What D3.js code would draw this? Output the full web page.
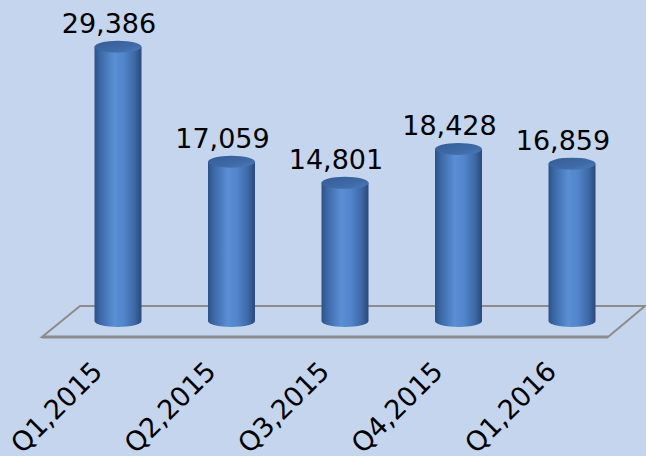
<!DOCTYPE html>
<html>
<head>
<meta charset="utf-8">
<script src="https://d3js.org/d3.v7.min.js"></script>
<style>
  html, body { margin: 0; padding: 0; background: #c6d5ee; }
  svg { display: block; }
</style>
</head>
<body>
<div id="chart"></div>
<script>
// quarterly values
const quarters = ["Q1,2015", "Q2,2015", "Q3,2015", "Q4,2015", "Q1,2016"];
const counts = [29386, 17059, 14801, 18428, 16859];

const W = 646, H = 456;
const baseY = 321;        // centre of the cylinder bottoms
const rx = 23.5, ry = 6;  // cylinder radius and ellipse tilt

const svg = d3.select("#chart").append("svg")
    .attr("width", W).attr("height", H)
    .style("font-family", "'Century Gothic', 'DejaVu Sans', sans-serif");

svg.append("rect").attr("width", W).attr("height", H).attr("fill", "#c6d5ee");

const x = d3.scalePoint().domain(quarters).range([118, 572]);
const y = d3.scaleLinear().domain([0, 30000]).range([baseY, 41]);

// gradients
const defs = svg.append("defs");
const body = defs.append("linearGradient").attr("id", "cylBody")
    .attr("x1", "0%").attr("x2", "100%").attr("y1", "0%").attr("y2", "0%");
[[0, "#2c5287"], [0.12, "#3b68a6"], [0.42, "#5a8fd5"], [0.62, "#5285cb"], [0.85, "#3d69a6"], [1, "#29497a"]]
    .forEach(([o, c]) => body.append("stop").attr("offset", o).attr("stop-color", c));
const cap = defs.append("linearGradient").attr("id", "cylTop")
    .attr("x1", "0%").attr("x2", "100%").attr("y1", "0%").attr("y2", "100%");
[[0, "#345d96"], [0.6, "#3e6aa6"], [1, "#4b7bbd"]]
    .forEach(([o, c]) => cap.append("stop").attr("offset", o).attr("stop-color", c));

// floor (back edge first, cylinders stand over it)
const floor = [[80, 306], [645, 306], [608, 337], [42, 337]];
svg.append("path")
    .attr("d", d3.line()(floor) + "Z")
    .attr("fill", "none")
    .attr("stroke", "#8c8c8c")
    .attr("stroke-width", 2);
svg.append("line")
    .attr("x1", 42).attr("x2", 608).attr("y1", 337).attr("y2", 337)
    .attr("stroke", "#8c8c8c").attr("stroke-width", 3);

const bars = svg.selectAll("g.bar").data(quarters).enter().append("g").attr("class", "bar");

bars.append("path")
    .attr("fill", "url(#cylBody)")
    .attr("d", (d, i) => {
        const cx = x(d), top = y(counts[i]);
        return `M${cx - rx},${top} L${cx - rx},${baseY} A${rx},${ry} 0 0 0 ${cx + rx},${baseY} L${cx + rx},${top} Z`;
    });

bars.append("ellipse")
    .attr("cx", d => x(d))
    .attr("cy", (d, i) => y(counts[i]))
    .attr("rx", rx).attr("ry", ry)
    .attr("fill", "url(#cylTop)");

// value labels
bars.append("text")
    .attr("x", d => x(d) - 9)
    .attr("y", (d, i) => y(counts[i]) - 14)
    .attr("text-anchor", "middle")
    .attr("font-size", 27)
    .attr("fill", "#000")
    .text((d, i) => d3.format(",")(counts[i]));

// category labels
svg.selectAll("text.cat").data(quarters).enter().append("text")
    .attr("class", "cat")
    .attr("transform", d => `translate(${x(d) - 14},373) rotate(-45)`)
    .attr("text-anchor", "end")
    .attr("font-size", 27)
    .attr("fill", "#000")
    .text(d => d);
</script>
</body>
</html>
